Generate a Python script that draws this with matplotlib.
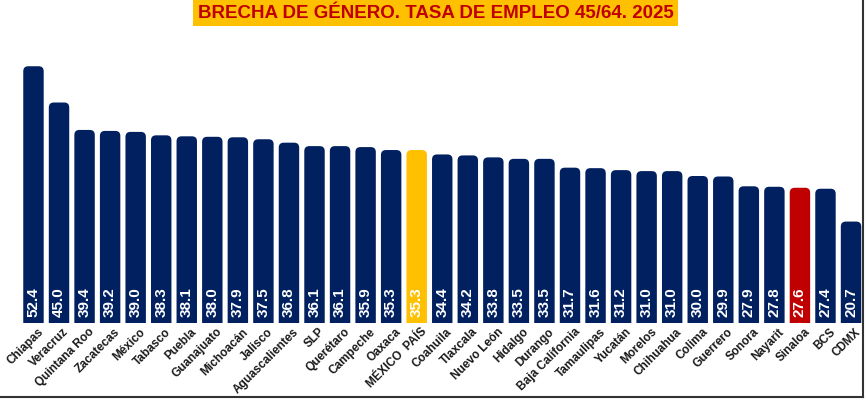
import matplotlib.pyplot as plt
from matplotlib.patches import PathPatch
from matplotlib.path import Path
from matplotlib.lines import Line2D

plt.rcParams['font.family'] = ['Liberation Sans', 'DejaVu Sans']

estados = ["Chiapas", "Veracruz", "Quintana Roo", "Zacatecas", "México", "Tabasco",
           "Puebla", "Guanajuato", "Michoacán", "Jalisco", "Aguascalientes", "SLP",
           "Querétaro", "Campeche", "Oaxaca", "MÉXICO  PAÍS", "Coahuila", "Tlaxcala",
           "Nuevo León", "Hidalgo", "Durango", "Baja California", "Tamaulipas",
           "Yucatán", "Morelos", "Chihuahua", "Colima", "Guerrero", "Sonora",
           "Nayarit", "Sinaloa", "BCS", "CDMX"]
brecha = [52.4, 45.0, 39.4, 39.2, 39.0, 38.3, 38.1, 38.0, 37.9, 37.5, 36.8, 36.1,
          36.1, 35.9, 35.3, 35.3, 34.4, 34.2, 33.8, 33.5, 33.5, 31.7, 31.6, 31.2,
          31.0, 31.0, 30.0, 29.9, 27.9, 27.8, 27.6, 27.4, 20.7]

AZUL = '#002060'
AMARILLO = '#FFC000'
ROJO = '#C00000'

colores = []
for nombre in estados:
    if nombre.startswith("MÉXICO"):
        colores.append(AMARILLO)
    elif nombre == "Sinaloa":
        colores.append(ROJO)
    else:
        colores.append(AZUL)


def barra_redondeada(x0, w, h, rx, ry):
    # rectangulo con solo las esquinas superiores redondeadas
    x1 = x0 + w
    verts = [(x0, 0), (x0, h - ry), (x0, h), (x0 + rx, h), (x1 - rx, h),
             (x1, h), (x1, h - ry), (x1, 0), (x0, 0)]
    codes = [Path.MOVETO, Path.LINETO, Path.CURVE3, Path.CURVE3, Path.LINETO,
             Path.CURVE3, Path.CURVE3, Path.LINETO, Path.CLOSEPOLY]
    return Path(verts, codes)


W, H = 865, 399
fig = plt.figure(figsize=(W / 100, H / 100), dpi=100)
ax_left, ax_right = 20.7, 863.8
ax_bottom, ax_top = 323, 30
ax = fig.add_axes([ax_left / W, (H - ax_bottom) / H,
                   (ax_right - ax_left) / W, (ax_bottom - ax_top) / H])

px_y = 4.9
ymax = (ax_bottom - ax_top) / px_y
n = len(estados)
ax.set_xlim(-0.5, n - 0.5)
ax.set_ylim(0, ymax)
ax.axis('off')

ancho = 0.8
px_x = (ax_right - ax_left) / n
radio_px = 5
rx = radio_px / px_x
ry = radio_px / px_y

barras = ax.bar(range(n), brecha, width=ancho, color=colores)
for i, b in enumerate(barras):
    x0, w, h = b.get_x(), b.get_width(), b.get_height()
    b.remove()
    ax.add_patch(PathPatch(barra_redondeada(x0, w, h, rx, ry),
                           facecolor=colores[i], edgecolor='none'))
    ax.text(i, 1.2, f"{brecha[i]:.1f}", rotation=90, ha='center', va='bottom',
            color='white', fontsize=11, fontweight='bold')
    ax.text(i + 0.15, -0.6, estados[i], rotation=45, ha='right', va='top',
            rotation_mode='anchor', color='#1a1a1a', fontsize=8.5,
            fontweight='bold', clip_on=False)

fig.text(435.5 / W, 1 - 13 / H, "BRECHA DE GÉNERO. TASA DE EMPLEO 45/64. 2025",
         ha='center', va='center', color=ROJO, fontsize=13.5, fontweight='bold',
         bbox=dict(boxstyle='square,pad=0.25', facecolor=AMARILLO, edgecolor='none'))

fig.add_artist(Line2D([1 - 2 / W, 1 - 2 / W], [2 / H, 1], color='#333333', lw=1.5))
fig.add_artist(Line2D([0, 1 - 2 / W], [2 / H, 2 / H], color='#333333', lw=1.5))

fig.savefig('out.png', dpi=100)
